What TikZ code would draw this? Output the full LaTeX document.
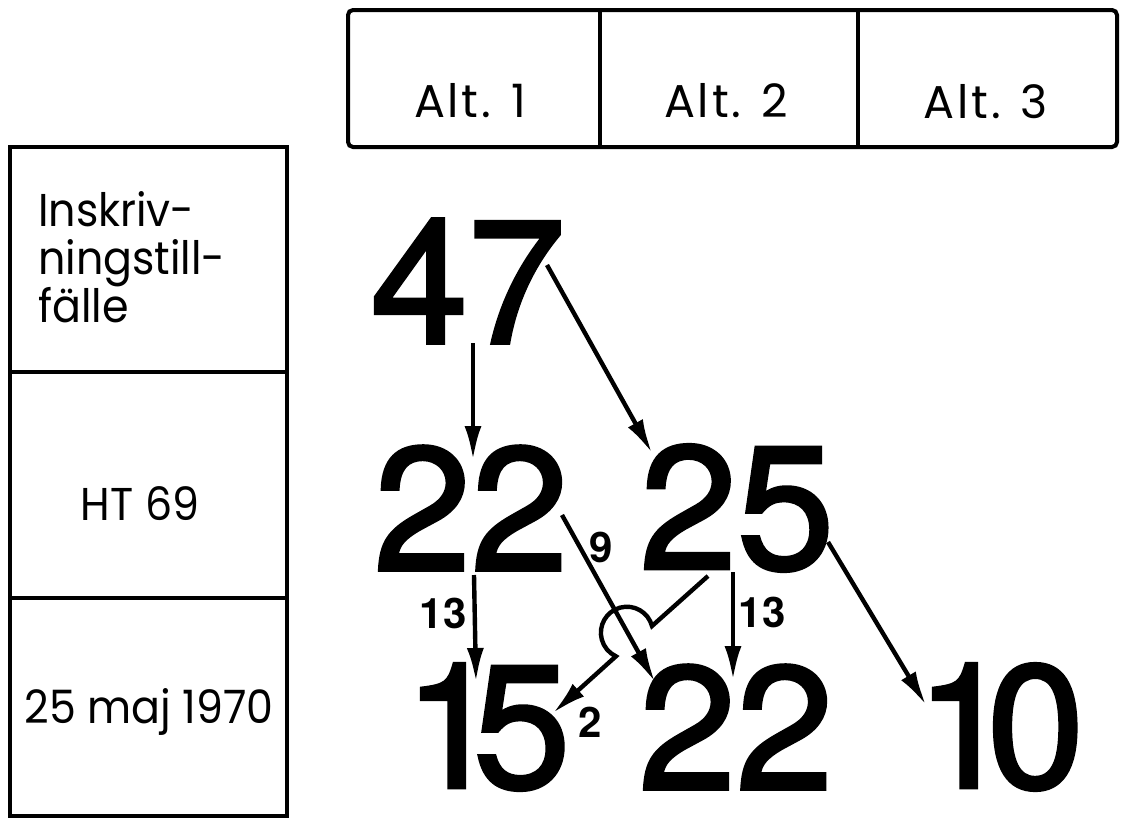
\documentclass[tikz,border=0pt]{standalone}
\usepackage{fontspec}
\setmainfont[FakeStretch=0.93]{Poppins}
\newfontfamily\altfont[LetterSpace=6]{Poppins}
\newfontfamily\numfont{TeX Gyre Heros}
\newfontfamily\bignumfont[FakeBold=2]{TeX Gyre Heros}
\usetikzlibrary{arrows.meta}

\tikzset{
  bignum/.style={font=\bignumfont\fontsize{175}{175}\selectfont, inner sep=0pt},
  flowlabel/.style={font=\numfont\bfseries\fontsize{42}{42}\selectfont, inner sep=0pt},
  celltext/.style={font=\fontsize{46}{48}\selectfont, inner sep=0pt},
  alttext/.style={font=\altfont\fontsize{46}{48}\selectfont, inner sep=0pt},
  flow/.style={line width=4.4pt, -{Latex[length=34pt,width=17pt]}},
  rule/.style={line width=4pt}
}

\begin{document}
\begin{tikzpicture}[x=1pt,y=-1pt]
\useasboundingbox (0,0) rectangle (1121,819);

% header with the three alternatives
\draw[rule, rounded corners=5pt] (348,10) rectangle (1117,147);
\draw[rule] (600,10) -- (600,147);
\draw[rule] (858,10) -- (858,147);
\node[alttext, anchor=base] (alt1) at (470,117) {Alt. 1};
\node[alttext, anchor=base] (alt2) at (726,117) {Alt. 2};
\node[alttext, anchor=base] (alt3) at (986,118) {Alt. 3};

% left column
\draw[rule] (10,147) rectangle (287,816);
\draw[rule] (10,372) -- (287,372);
\draw[rule] (10,598) -- (287,598);
\node[celltext, anchor=base west, align=left] (occ) at (38,322) {Inskriv-\\ningstill-\\fälle};
\node[celltext, anchor=base] (ht) at (140,520) {HT 69};
\node[celltext, anchor=base] (may) at (149,723) {25 maj 1970};

% numbers
\node[bignum] (n47) at (468,281) {47};
\node[bignum] (n22a) at (471,508) {22};
\node[bignum] (n25) at (737,508) {25};
\node[bignum] (n15) at (487,727) {1\kern-28pt 5};
\node[bignum] (n22b) at (736,727) {22};
\node[bignum] (n10) at (1000,727) {1\kern-26pt 0};

% flows
\draw[flow] ([shift={(5,62)}]n47.center) -- ([shift={(2,-48)}]n22a.center);
\draw[flow] ([shift={(79,-16)}]n47.center) -- ([shift={(-85,-55)}]n25.center);
\draw[flow] ([shift={(3,67)}]n22a.center) -- ([shift={(-11,-45)}]n15.center);
\draw[flow] ([shift={(91,7)}]n22a.center) -- ([shift={(-81,-45)}]n22b.center);
\draw[flow] ([shift={(-4,64)}]n25.center) -- ([shift={(-3,-47)}]n22b.center);
\coordinate (hop) at (652,626);
\draw[flow] ([shift={(-29,68)}]n25.center) -- (hop)
  arc[start angle=15, end angle=245, radius=26pt] -- ([shift={(66,-14)}]n15.center);
\draw[flow] ([shift={(91,34)}]n25.center) -- ([shift={(-74,-22)}]n10.center);

\node[flowlabel] (f13a) at (443,613) {13};
\node[flowlabel] (f9) at (601,547) {9};
\node[flowlabel] (f13b) at (762,612) {13};
\node[flowlabel] (f2) at (590,722) {2};
\end{tikzpicture}
\end{document}
